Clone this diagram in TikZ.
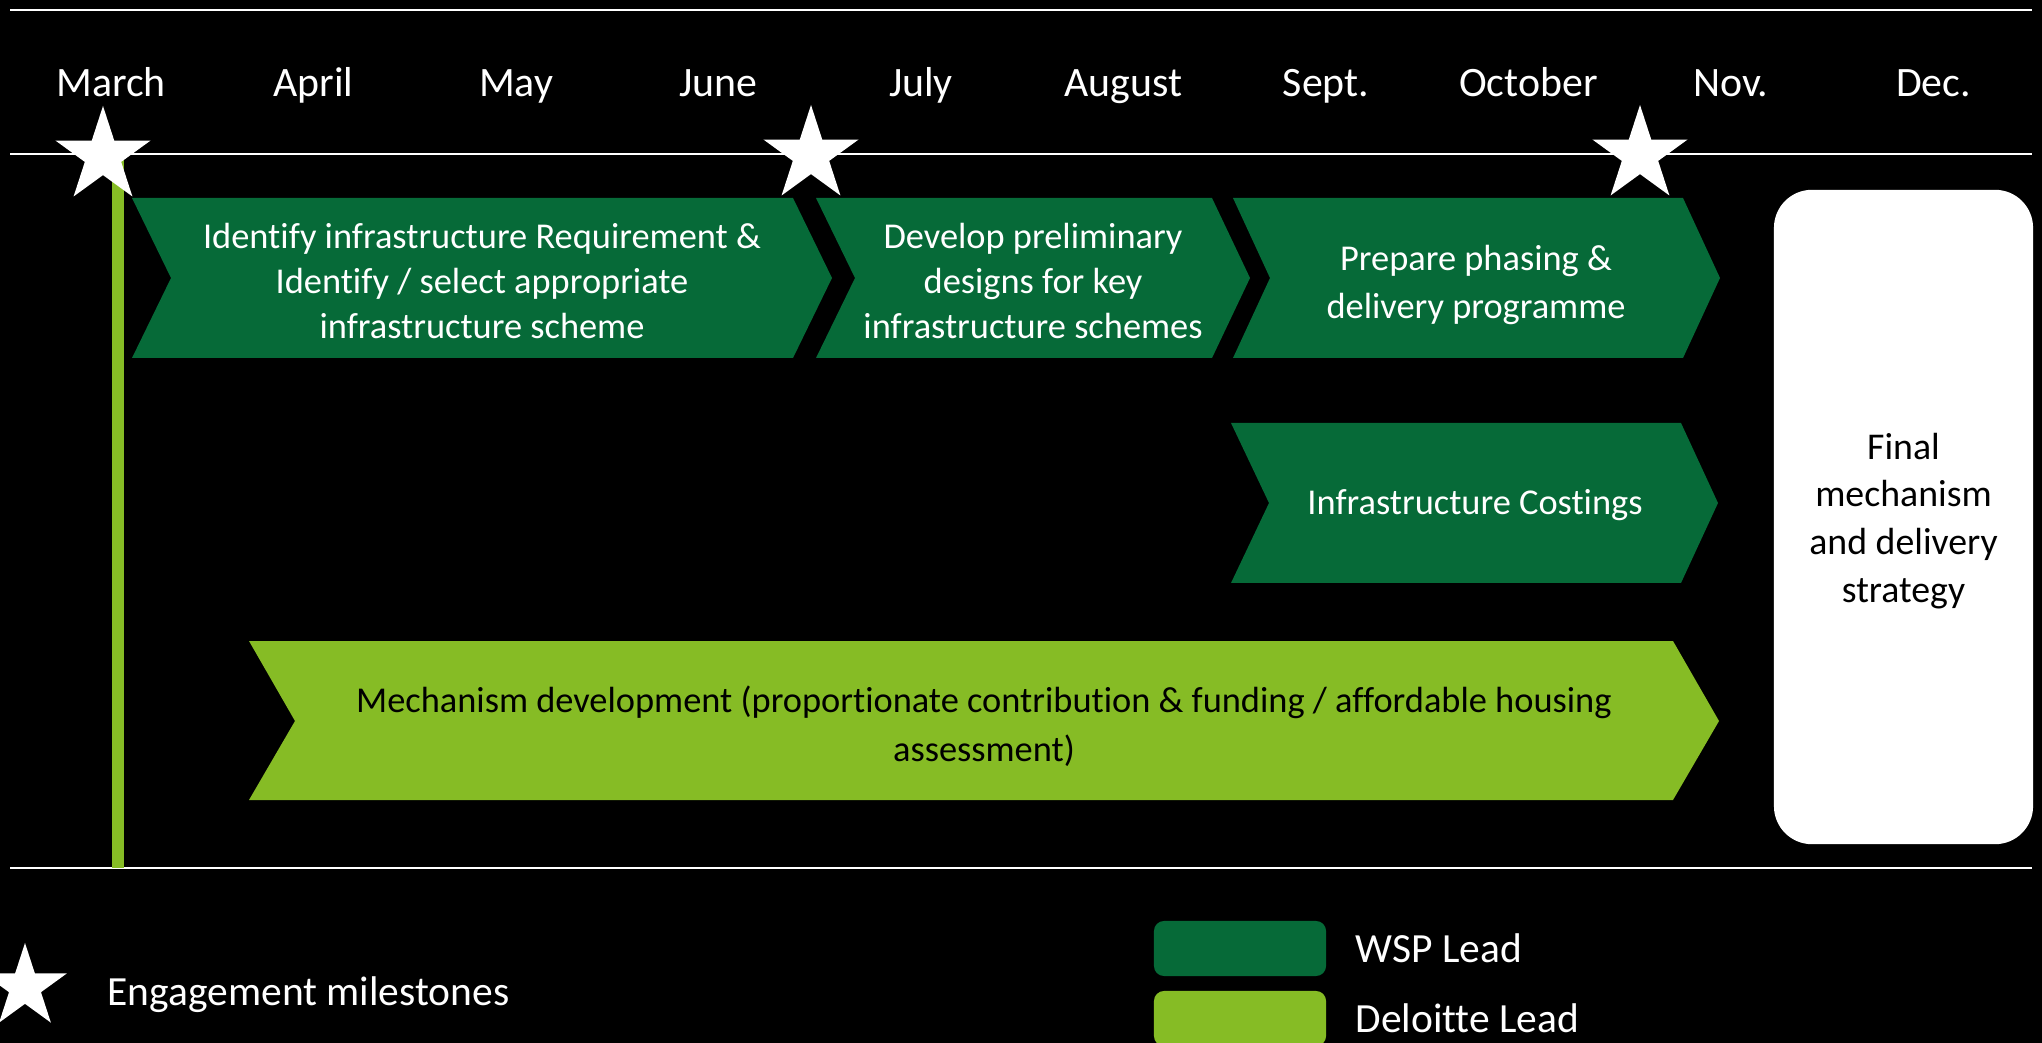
\documentclass[tikz,border=0pt]{standalone}
\usepackage{fontspec}
\setmainfont{Carlito}[Ligatures=NoCommon]
\usetikzlibrary{shapes.geometric,positioning}
\definecolor{wspgreen}{HTML}{066A38}
\definecolor{dttgreen}{HTML}{86BC25}

\begin{document}
\begin{tikzpicture}[x=0.01cm,y=-0.01cm,
	month/.style={text=white,font=\fontsize{11.9}{14}\selectfont,anchor=base},
	phase/.style={align=center,inner sep=0,font=\fontsize{10.35}{12.9}\selectfont},
	milestone/.style={star,star points=5,star point ratio=2.618,
		fill=white,inner sep=0,minimum size=1cm},
	keytext/.style={text=white,inner sep=0,font=\fontsize{11.8}{14}\selectfont}]
		
		% Background
		\fill[black] (0,0) rectangle (2042,1043);
		\useasboundingbox (0,0) rectangle (2042,1043);
		
		% Month header
		\draw[white,line width=0.7pt] (10,10) -- (2032,10);
		\draw[white,line width=0.7pt] (10,154) -- (2032,154);
		\draw[white,line width=0.7pt] (10,868) -- (2032,868);
		
		\foreach \m [count=\i from 0] in {March,April,May,June,July,August,Sept.,October,Nov.,Dec.}
		\node[month] (m\i) at (111+202.5*\i,97) {\m};
		
		\draw[dttgreen,line width=3.4pt] (118,150) -- (118,868);
		
		% Phases
		\fill[wspgreen] (132,198) -- (793,198) -- (832,278) -- (793,358)
		-- (132,358) -- (171,278) -- cycle;
		\fill[wspgreen] (816,198) -- (1212,198) -- (1250,278) -- (1212,358)
		-- (816,358) -- (855,278) -- cycle;
		\fill[wspgreen] (1233,198) -- (1683,198) -- (1720,278) -- (1683,358)
		-- (1233,358) -- (1270,278) -- cycle;
		\fill[wspgreen] (1231,423) -- (1681,423) -- (1718,503) -- (1681,583)
		-- (1231,583) -- (1269,503) -- cycle;
		\fill[dttgreen] (249,641) -- (1673,641) -- (1719,721) -- (1673,800)
		-- (249,800) -- (295,721) -- cycle;
		
		\node[phase,text=white] (phase1) at (482,281)
		{Identify infrastructure Requirement \&\\ Identify / select appropriate\\ infrastructure scheme};
		\node[phase,text=white] (phase2) at (1033,281)
		{Develop preliminary\\ designs for key\\ infrastructure schemes};
		\node[phase,text=white,font=\fontsize{10.35}{13.7}\selectfont] (phase3) at (1476,285)
		{Prepare phasing \&\\ delivery programme};
		\node[phase,text=white] (costs) at (1475,505) {Infrastructure Costings};
		\node[phase,text=black,font=\fontsize{10.35}{14}\selectfont] (mech) at (984,726)
		{Mechanism development (proportionate contribution \& funding / affordable housing\\ assessment)};
		
		% Final box
		\node[fill=white,
		rounded corners=0.38cm,
		minimum width=2.59cm,
		minimum height=6.54cm] (final) at (1903.5,517) {};
		\node[phase,text=black,font=\fontsize{10.75}{13.6}\selectfont] (finaltext) at (1903.5,521)
		{Final\\ mechanism\\ and delivery\\ strategy};
		
		% Milestones
		\node[milestone] (star1) at (103,156) {};
		\node[milestone] (star2) at (811,155) {};
		\node[milestone] (star3) at (1640,155) {};
		
		% Legend
		\node[milestone,minimum size=0.88cm] (starkey) at (25,987) {};
		\node[keytext,anchor=base west] (starlabel) at (107,1005) {Engagement milestones};
		
		\node[fill=wspgreen,
		rounded corners=0.1cm,
		minimum width=1.72cm,
		minimum height=0.55cm] (wspkey) at (1240,948.5) {};
		\node[fill=dttgreen,
		rounded corners=0.1cm,
		minimum width=1.72cm,
		minimum height=0.55cm] (dttkey) at (1240,1018.5) {};
		
		\node[keytext,right=0.28cm of wspkey] (wsplabel) {WSP Lead};
		\node[keytext,right=0.28cm of dttkey] (dttlabel) {Deloitte Lead};
		
\end{tikzpicture}
\end{document}
